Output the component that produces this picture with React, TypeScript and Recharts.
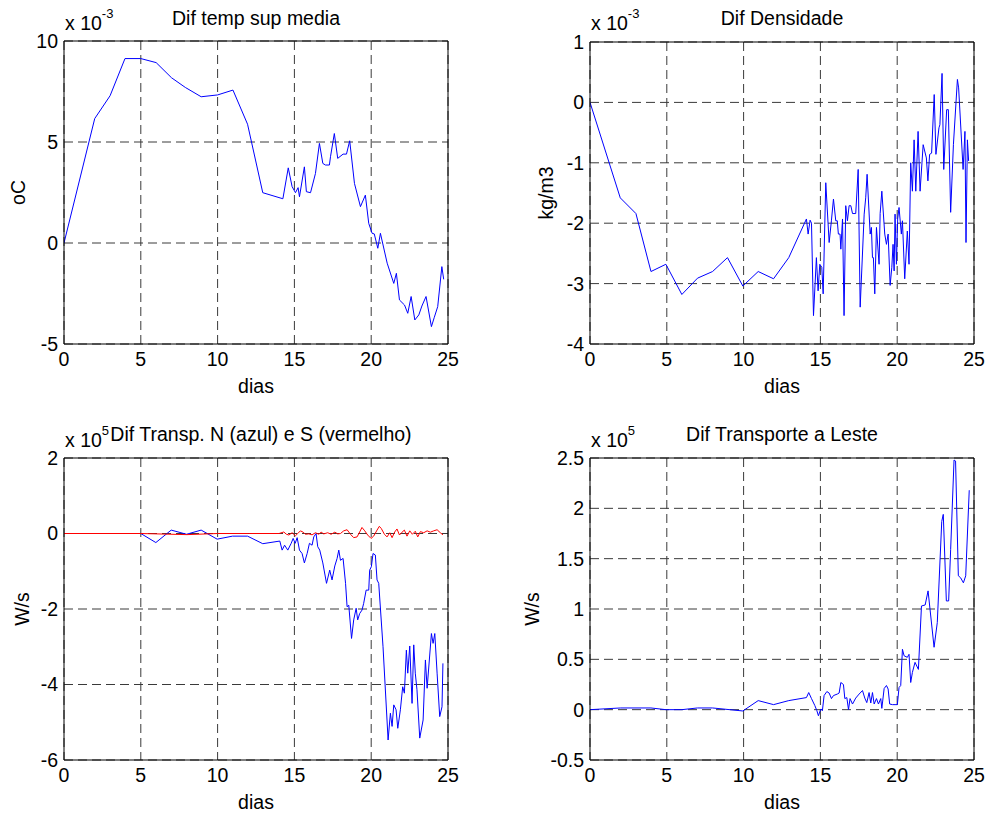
import { CartesianGrid, Line, LineChart, ReferenceLine, XAxis, YAxis } from "recharts";

const FONT = '"Liberation Sans", Arial, Helvetica, sans-serif';
const FS = 19.5;
const GRID = "#3a3a3a";

const dayTicks = [0, 5, 10, 15, 20, 25];

// Dif temp sup media (x 10^-3 oC)
const tempDays = [0, 2, 3, 3.97, 5, 6, 7, 7.9, 8.93, 10, 11, 11.95, 12.94, 14.25, 14.6, 14.85, 15.07, 15.24, 15.33, 15.65, 15.78, 16.05, 16.37, 16.63, 16.85, 17.02, 17.28, 17.35, 17.6, 17.82, 18.17, 18.39, 18.6, 18.91, 19.3, 19.62, 19.84, 20.06, 20.2, 20.43, 20.6, 21.04, 21.47, 21.64, 21.84, 22.17, 22.38, 22.6, 22.84, 23.1, 23.3, 23.57, 23.92, 24.1, 24.33, 24.6, 24.72];
const tempValues = [0, 6.16, 7.29, 9.13, 9.13, 8.93, 8.18, 7.7, 7.24, 7.33, 7.57, 5.88, 2.49, 2.19, 3.72, 2.79, 2.49, 2.74, 2.29, 3.77, 2.54, 2.49, 3.44, 4.93, 3.94, 3.86, 3.86, 4.27, 5.42, 4.19, 4.4, 4.4, 5.06, 2.95, 1.8, 2.37, 0.97, 0.48, 0.45, -0.26, 0.48, -1.0, -2.0, -1.5, -2.82, -3.07, -3.48, -2.65, -3.81, -3.56, -3.12, -2.65, -4.14, -3.7, -3.15, -1.17, -1.8];

// Dif Densidade (x 10^-3 kg/m3)
const densDays = [0, 1.97, 2.99, 3.97, 4.94, 5.98, 7.0, 7.98, 8.95, 9.95, 10.95, 11.95, 12.94, 14.09, 14.2, 14.33, 14.42, 14.55, 14.74, 14.85, 14.96, 15.09, 15.18, 15.35, 15.57, 15.72, 15.85, 16.0, 16.1, 16.17, 16.28, 16.33, 16.44, 16.54, 16.65, 16.76, 16.87, 16.98, 17.09, 17.3, 17.46, 17.59, 17.85, 17.95, 18.04, 18.24, 18.32, 18.39, 18.45, 18.54, 18.65, 18.82, 18.89, 19.0, 19.19, 19.3, 19.41, 19.54, 19.65, 19.73, 19.8, 19.86, 19.95, 20.03, 20.12, 20.27, 20.34, 20.49, 20.66, 20.77, 20.88, 20.99, 21.1, 21.21, 21.36, 21.49, 21.69, 21.9, 22.0, 22.11, 22.24, 22.41, 22.52, 22.72, 22.78, 22.92, 23.03, 23.22, 23.33, 23.48, 23.66, 23.92, 24.0, 24.29, 24.41, 24.48, 24.57, 24.65];
const densValues = [0, -1.58, -1.84, -2.8, -2.68, -3.18, -2.91, -2.8, -2.57, -3.04, -2.8, -2.92, -2.57, -1.93, -2.18, -1.95, -2.0, -3.53, -2.57, -3.12, -2.68, -2.73, -3.17, -1.33, -2.32, -1.95, -1.6, -1.96, -1.96, -2.18, -2.18, -2.43, -1.93, -3.53, -1.71, -1.96, -1.71, -1.71, -1.84, -1.84, -1.11, -3.39, -1.85, -1.58, -1.19, -2.18, -2.07, -2.57, -2.57, -3.17, -2.07, -2.68, -1.84, -1.47, -2.18, -2.35, -2.18, -3.03, -2.73, -2.35, -2.79, -1.85, -2.68, -1.93, -1.74, -2.18, -1.96, -2.92, -2.13, -2.68, -1.0, -1.47, -0.62, -1.47, -0.48, -1.47, -0.7, -0.92, -1.3, -0.86, -0.84, 0.13, -0.86, -0.42, -0.37, 0.48, -1.11, -0.12, -0.12, -1.82, -0.7, 0.38, 0.24, -1.11, -0.48, -2.32, -0.62, -0.97];

// Dif Transp. N (azul) (x 10^5 W/s)
const northDays = [0, 5.0, 5.98, 6.98, 7.98, 8.93, 9.97, 10.97, 11.95, 12.94, 14.05, 14.2, 14.36, 14.57, 14.79, 14.92, 15.05, 15.18, 15.33, 15.5, 15.65, 15.83, 15.98, 16.15, 16.26, 16.41, 16.52, 16.65, 16.85, 17.09, 17.3, 17.45, 17.63, 17.78, 17.89, 18.0, 18.17, 18.33, 18.43, 18.54, 18.72, 18.86, 19.02, 19.12, 19.25, 19.4, 19.51, 19.67, 19.84, 19.9, 20.01, 20.12, 20.27, 20.38, 20.49, 20.77, 21.1, 21.25, 21.36, 21.47, 21.62, 21.73, 21.9, 22.05, 22.16, 22.29, 22.38, 22.51, 22.66, 22.77, 22.87, 22.98, 23.16, 23.38, 23.53, 23.64, 23.92, 24.03, 24.14, 24.29, 24.46, 24.61, 24.67];
const northValues = [0, 0, -0.24, 0.09, -0.02, 0.09, -0.15, -0.07, -0.07, -0.27, -0.2, -0.44, -0.31, -0.44, -0.26, -0.13, -0.26, -0.11, -0.44, -0.53, -0.78, -0.53, -0.26, -0.31, -0.09, 0, -0.35, -0.44, -0.78, -1.32, -0.97, -1.23, -0.86, -0.66, -0.44, -0.71, -0.66, -1.32, -1.94, -1.9, -2.78, -2.29, -1.98, -2.29, -2.12, -2.03, -1.85, -1.5, -1.5, -0.97, -0.88, -0.53, -0.57, -1.23, -1.32, -3.0, -5.47, -4.76, -5.11, -4.54, -4.67, -5.16, -4.67, -4.06, -4.23, -3.09, -3.7, -2.98, -4.5, -2.95, -3.7, -4.14, -5.42, -4.94, -3.35, -4.1, -2.65, -2.91, -2.65, -3.7, -4.85, -4.59, -3.44];

// Dif Transp. S (vermelho) (x 10^5 W/s)
const southDays = [0, 5, 8, 10, 12, 14, 14.31, 14.48, 14.64, 14.85, 15.07, 15.22, 15.39, 15.57, 15.72, 15.94, 16.15, 16.37, 16.59, 16.74, 16.91, 17.17, 17.39, 17.63, 17.82, 18.0, 18.21, 18.43, 18.65, 18.86, 19.08, 19.25, 19.4, 19.58, 19.77, 19.99, 20.16, 20.38, 20.53, 20.66, 20.86, 21.03, 21.21, 21.36, 21.53, 21.68, 21.84, 22.01, 22.16, 22.33, 22.51, 22.68, 22.87, 23.03, 23.2, 23.42, 23.64, 23.85, 24.07, 24.29, 24.5, 24.67];
const southValues = [0, 0, -0.03, 0, 0, 0, 0.04, -0.02, -0.04, 0.02, -0.06, 0, 0.07, 0.035, -0.02, -0.01, -0.035, 0.02, -0.02, 0.035, -0.01, 0.02, -0.02, 0.035, -0.01, 0, 0.07, 0.1, -0.02, -0.11, -0.09, 0.04, 0.16, 0.07, -0.04, -0.13, -0.07, 0.09, 0.19, 0.13, -0.02, -0.09, 0.02, -0.11, 0.04, 0.12, -0.04, 0.035, 0.09, -0.07, 0.07, -0.02, 0.06, -0.09, 0.05, 0.02, 0.07, 0.035, 0.07, 0.1, 0.02, -0.035];

// Dif Transporte a Leste (x 10^5 W/s)
const eastDays = [0, 2.0, 3.97, 4.94, 5.98, 7.0, 7.98, 9.95, 10.95, 11.95, 12.94, 14.09, 14.24, 14.42, 14.64, 14.77, 14.87, 15.03, 15.13, 15.24, 15.42, 15.57, 15.72, 15.85, 16.1, 16.22, 16.33, 16.5, 16.59, 16.72, 16.83, 16.93, 17.09, 17.3, 17.52, 17.74, 17.89, 18.02, 18.17, 18.28, 18.39, 18.5, 18.65, 18.78, 18.93, 19.0, 19.15, 19.3, 19.41, 19.51, 19.69, 19.86, 20.01, 20.12, 20.23, 20.34, 20.45, 20.66, 20.77, 20.88, 20.99, 21.16, 21.38, 21.58, 21.82, 22.01, 22.4, 22.61, 22.9, 23.0, 23.2, 23.35, 23.48, 23.7, 23.8, 23.98, 24.13, 24.31, 24.46, 24.69];
const eastValues = [0, 0.017, 0.017, 0, 0, 0.017, 0.017, -0.013, 0.09, 0.05, 0.09, 0.12, 0.17, 0.11, 0.04, -0.01, -0.06, 0.007, -0.01, 0.14, 0.18, 0.165, 0.11, 0.14, 0.155, 0.165, 0.27, 0.25, 0.11, 0.12, 0, 0.11, 0.056, 0.115, 0.155, 0.19, 0.115, 0.07, 0.17, 0.066, 0.17, 0.056, 0.11, 0.056, 0.11, 0.013, 0.21, 0.24, 0.205, 0.056, 0.05, 0.05, 0.05, 0.22, 0.24, 0.6, 0.535, 0.52, 0.55, 0.27, 0.37, 0.47, 0.4, 1.03, 1.04, 1.18, 0.62, 0.865, 1.87, 1.94, 1.08, 1.08, 1.59, 2.48, 2.47, 1.33, 1.31, 1.26, 1.33, 2.18];

const zip = (days: number[], values: number[]) => days.map((d, i) => ({ d, v: values[i] }));

interface Series {
  data: { d: number; v: number }[];
  color: string;
}

interface PanelProps {
  left: number;
  top: number;
  width: number;
  height: number;
  plot: { left: number; top: number; right: number; bottom: number };
  yDomain: [number, number];
  yTicks: number[];
  series: Series[];
  title: string;
  titleY: number;
  titleShift?: number;
  exponent: string;
  expY: number;
  ylabel: string;
  ylabelX: number;
}

const Y_W = 60;
const X_H = 30;

function Panel(p: PanelProps) {
  const margin = {
    top: p.plot.top,
    right: p.width - p.plot.right,
    bottom: p.height - p.plot.bottom - X_H,
    left: p.plot.left - Y_W,
  };
  const cx = (p.plot.left + p.plot.right) / 2;
  const cy = (p.plot.top + p.plot.bottom) / 2;
  return (
    <div style={{ position: "absolute", left: p.left, top: p.top }}>
      <LineChart width={p.width} height={p.height} margin={margin}>
        <CartesianGrid stroke={GRID} strokeDasharray="9 5" />
        <XAxis
          type="number"
          dataKey="d"
          domain={[0, 25]}
          ticks={dayTicks}
          allowDataOverflow
          height={X_H}
          tickSize={0}
          tickMargin={8}
          stroke="#000"
          tick={{ fill: "#000", fontSize: FS, fontFamily: FONT }}
        />
        <YAxis
          type="number"
          domain={p.yDomain}
          ticks={p.yTicks}
          allowDataOverflow
          width={Y_W}
          tickSize={0}
          tickMargin={6}
          stroke="#000"
          tick={{ fill: "#000", fontSize: FS, fontFamily: FONT }}
        />
        <ReferenceLine x={25} stroke="#000" />
        <ReferenceLine y={p.yDomain[1]} stroke="#000" />
        {p.series.map((s, i) => (
          <Line
            key={i}
            data={s.data}
            dataKey="v"
            type="linear"
            stroke={s.color}
            strokeWidth={1}
            dot={false}
            activeDot={false}
            isAnimationActive={false}
          />
        ))}
        <text x={cx + (p.titleShift ?? 0)} y={p.titleY} textAnchor="middle" fontFamily={FONT} fontSize={FS} fill="#000">
          {p.title}
        </text>
        <text x={p.plot.left + 1} y={p.expY} fontFamily={FONT} fontSize={FS} fill="#000">
          x 10
          <tspan dy={-12} fontSize={13}>
            {p.exponent}
          </tspan>
        </text>
        <text x={cx} y={p.plot.bottom + 49} textAnchor="middle" fontFamily={FONT} fontSize={FS} fill="#000">
          dias
        </text>
        <text
          x={p.ylabelX}
          y={cy}
          textAnchor="middle"
          fontFamily={FONT}
          fontSize={FS}
          fill="#000"
          transform={`rotate(-90, ${p.ylabelX}, ${cy})`}
        >
          {p.ylabel}
        </text>
      </LineChart>
    </div>
  );
}

export default function App() {
  return (
    <div style={{ position: "absolute", left: 0, top: 0, width: 988, height: 813, background: "#fff" }}>
      <Panel
        left={0}
        top={0}
        width={494}
        height={406}
        plot={{ left: 64, top: 41, right: 448, bottom: 344 }}
        yDomain={[-5, 10]}
        yTicks={[-5, 0, 5, 10]}
        series={[{ data: zip(tempDays, tempValues), color: "#0000ff" }]}
        title="Dif temp sup media"
        titleY={25}
        exponent="-3"
        expY={30}
        ylabel="oC"
        ylabelX={25}
      />
      <Panel
        left={494}
        top={0}
        width={494}
        height={406}
        plot={{ left: 96, top: 42, right: 480, bottom: 344 }}
        yDomain={[-4, 1]}
        yTicks={[-4, -3, -2, -1, 0, 1]}
        series={[{ data: zip(densDays, densValues), color: "#0000ff" }]}
        title="Dif Densidade"
        titleY={25}
        exponent="-3"
        expY={30}
        ylabel="kg/m3"
        ylabelX={59}
      />
      <Panel
        left={0}
        top={406}
        width={494}
        height={407}
        plot={{ left: 64, top: 52, right: 448, bottom: 354 }}
        yDomain={[-6, 2]}
        yTicks={[-6, -4, -2, 0, 2]}
        series={[
          { data: zip(northDays, northValues), color: "#0000ff" },
          { data: zip(southDays, southValues), color: "#ff0000" },
        ]}
        title="Dif Transp. N (azul) e S (vermelho)"
        titleY={35}
        titleShift={5}
        exponent="5"
        expY={41}
        ylabel="W/s"
        ylabelX={29}
      />
      <Panel
        left={494}
        top={406}
        width={494}
        height={407}
        plot={{ left: 96, top: 52, right: 480, bottom: 354 }}
        yDomain={[-0.5, 2.5]}
        yTicks={[-0.5, 0, 0.5, 1, 1.5, 2, 2.5]}
        series={[{ data: zip(eastDays, eastValues), color: "#0000ff" }]}
        title="Dif Transporte a Leste"
        titleY={35}
        exponent="5"
        expY={41}
        ylabel="W/s"
        ylabelX={45}
      />
    </div>
  );
}
